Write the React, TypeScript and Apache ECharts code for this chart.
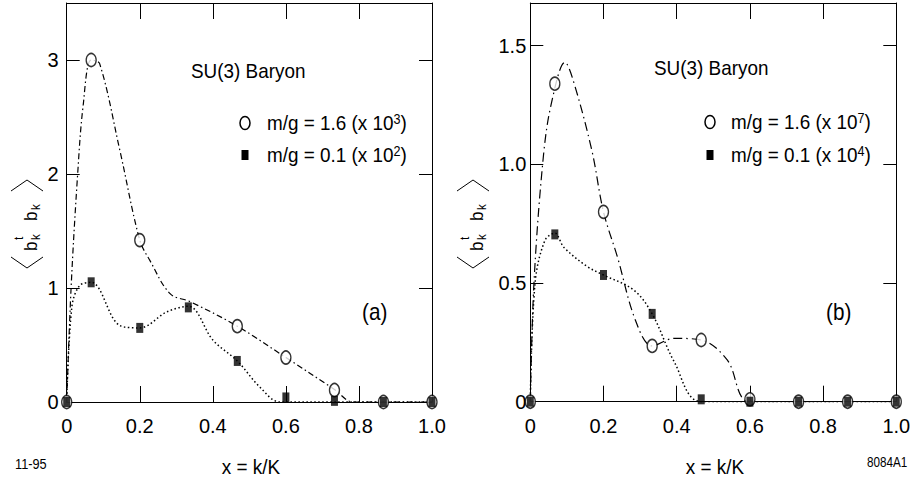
import React, { useEffect, useRef } from "react";
import * as echarts from "echarts";

// ---- data ----
const xPoints = [0, 0.067, 0.2, 0.333, 0.467, 0.6, 0.733, 0.867, 1.0];
const xTickLabels = ["0", "0.2", "0.4", "0.6", "0.8", "1.0"];

// panel (a)
const aCircles = [0, 3.0, 1.42, null, 0.665, 0.39, 0.105, 0, 0];
const aSquares = [0, 1.05, 0.65, 0.83, 0.36, 0.04, 0.01, 0, 0];
const aCircleCurveX = [0, 0.012, 0.03, 0.045, 0.067, 0.09, 0.146, 0.2, 0.228, 0.283, 0.338, 0.467, 0.6, 0.733, 0.784, 0.867, 1.0];
const aCircleCurveY = [0, 1.0, 2.0, 2.6, 3.0, 2.97, 2.2, 1.42, 1.24, 0.95, 0.88, 0.665, 0.39, 0.11, 0, 0, 0];
const aSquareCurveX = [0, 0.014, 0.035, 0.067, 0.146, 0.2, 0.274, 0.333, 0.401, 0.467, 0.529, 0.584, 0.733, 1.0];
const aSquareCurveY = [0, 0.83, 1.02, 1.05, 0.67, 0.65, 0.79, 0.84, 0.54, 0.36, 0.13, 0, 0, 0];

// panel (b)
const bCircles = [0, 1.34, 0.8, 0.235, 0.26, 0.01, 0, 0, 0];
const bSquares = [0, 0.705, 0.534, 0.37, 0.01, 0, 0, 0, 0];
const bCircleCurveX = [0, 0.01, 0.0355, 0.058, 0.095, 0.117, 0.168, 0.2, 0.238, 0.288, 0.333, 0.393, 0.467, 0.538, 0.6, 1.0];
const bCircleCurveY = [0, 0.5, 1.03, 1.26, 1.43, 1.355, 1.06, 0.8, 0.61, 0.34, 0.235, 0.267, 0.26, 0.176, 0, 0];
const bSquareCurveX = [0, 0.013, 0.04, 0.067, 0.092, 0.156, 0.2, 0.283, 0.333, 0.393, 0.467, 1.0];
const bSquareCurveY = [0, 0.5, 0.68, 0.71, 0.65, 0.569, 0.534, 0.47, 0.37, 0.169, 0, 0];

const FONT = '"Liberation Sans", Arial, Helvetica, sans-serif';
const SX = 0.9; // narrow look

const pairs = (xs: number[], ys: (number | null)[]) =>
  xs.map((x, i) => [x, ys[i]]).filter((p) => p[1] !== null);

export default function App() {
  const ref = useRef<HTMLDivElement>(null);
  useEffect(() => {
    document.body.style.margin = "0";
    const chart = echarts.init(ref.current!, null, { renderer: "svg" });

    const grids = [
      { left: 66.7, top: 3, width: 365.3, height: 399 },
      { left: 530.3, top: 3, width: 366, height: 398.7 },
    ];
    const axisLine = { show: true, onZero: false, lineStyle: { color: "#000", width: 1 } };
    const xAxisFor = (gi: number, pos: "bottom" | "top") => ({
      type: "value",
      gridIndex: gi,
      position: pos,
      min: 0,
      max: 1,
      interval: 0.2,
      axisLine,
      axisTick: { show: true, inside: true, length: 16, lineStyle: { color: "#000" } },
      splitLine: { show: false },
      axisLabel: {
        show: pos === "bottom",
        margin: 14,
        fontSize: 20,
        fontFamily: FONT,
        color: "#000",
        formatter: (v: number) => xTickLabels[Math.round(v / 0.2)],
      },
    });
    const yAxisFor = (gi: number, pos: "left" | "right", max: number, interval: number, fmt: (v: number) => string, margin: number) => ({
      type: "value",
      gridIndex: gi,
      position: pos,
      min: 0,
      max,
      interval,
      axisLine,
      axisTick: { show: true, inside: true, length: 13, lineStyle: { color: "#000" } },
      splitLine: { show: false },
      axisLabel: {
        show: pos === "left",
        showMaxLabel: false,
        margin,
        fontSize: 20,
        fontFamily: FONT,
        color: "#000",
        formatter: fmt,
      },
    });

    const circleSeries = (xi: number, yi: number, data: any[]) => ({
      type: "scatter",
      xAxisIndex: xi,
      yAxisIndex: yi,
      data,
      symbol: "circle",
      symbolSize: [10, 13],
      itemStyle: { color: "#fff", borderColor: "#000", borderWidth: 1.5 },
      z: 3,
    });
    const squareSeries = (xi: number, yi: number, data: any[]) => ({
      type: "scatter",
      xAxisIndex: xi,
      yAxisIndex: yi,
      data,
      symbol: "rect",
      symbolSize: [7, 10],
      itemStyle: { color: "#000" },
      z: 4,
    });
    const curve = (xi: number, yi: number, data: any[], dash: number[], width: number) => ({
      type: "line",
      xAxisIndex: xi,
      yAxisIndex: yi,
      data,
      smooth: 0.35,
      showSymbol: false,
      symbol: "none",
      lineStyle: { color: "#000", width, type: dash },
      clip: true,
      z: 2,
    });

    const sty = (text: string, size: number, align = "left") => ({
      text,
      fontSize: size,
      fontFamily: FONT,
      fill: "#000",
      align,
      verticalAlign: "middle",
      textAlign: align,
      textVerticalAlign: "middle",
    });

    const yTitle = (cx: number, cy: number) => ({
      type: "group",
      x: cx,
      y: cy,
      rotation: Math.PI / 2,
      children: [
        { type: "polyline", shape: { points: [[-33, -16], [-44, 0], [-33, 16]] }, style: { stroke: "#000", fill: null, lineWidth: 1 } },
        { type: "polyline", shape: { points: [[33, -16], [44, 0], [33, 16]] }, style: { stroke: "#000", fill: null, lineWidth: 1 } },
        { type: "text", x: -27, y: 4, scaleX: SX, style: sty("b", 19) },
        { type: "text", x: -16, y: -8, scaleX: SX, style: sty("t", 13) },
        { type: "text", x: -16, y: 9, scaleX: SX, style: sty("k", 13) },
        { type: "text", x: 3, y: 4, scaleX: SX, style: sty("b", 19) },
        { type: "text", x: 14, y: 9, scaleX: SX, style: sty("k", 13) },
      ],
    });

    const txt = (x: number, y: number, text: string, size: number, align = "left", sx = SX) => ({
      type: "text",
      x,
      y,
      scaleX: sx,
      style: sty(text, size, align),
    });
    const supTxt = (x: number, y: number, base: string, sup: string) => ({
      type: "text",
      x,
      y,
      scaleX: SX,
      style: {
        text: `{n|${base}}{s|${sup}}{n|)}`,
        fill: "#000",
        align: "left",
        verticalAlign: "middle",
        textAlign: "left",
        textVerticalAlign: "middle",
        rich: {
          n: { fontSize: 21, fontFamily: FONT, fill: "#000", verticalAlign: "bottom" },
          s: { fontSize: 14, fontFamily: FONT, fill: "#000", verticalAlign: "top" },
        },
      },
    });
    const legendCircle = (cx: number, cy: number) => ({
      type: "ellipse",
      shape: { cx, cy, rx: 5, ry: 6.5 },
      style: { fill: "#fff", stroke: "#000", lineWidth: 1.5 },
    });
    const legendSquare = (cx: number, cy: number) => ({
      type: "rect",
      shape: { x: cx - 3.5, y: cy - 5, width: 7, height: 10 },
      style: { fill: "#000" },
    });

    chart.setOption({
      animation: false,
      backgroundColor: "#fff",
      grid: grids,
      xAxis: [xAxisFor(0, "bottom"), xAxisFor(0, "top"), xAxisFor(1, "bottom"), xAxisFor(1, "top")],
      yAxis: [
        yAxisFor(0, "left", 3.5, 1, (v) => String(v), 8),
        yAxisFor(0, "right", 3.5, 1, (v) => String(v), 8),
        yAxisFor(1, "left", 1.68, 0.5, (v) => (v === 0 ? "0" : v.toFixed(1)), 4),
        yAxisFor(1, "right", 1.68, 0.5, (v) => (v === 0 ? "0" : v.toFixed(1)), 4),
      ],
      series: [
        curve(0, 0, pairs(aCircleCurveX, aCircleCurveY), [6, 3, 1.5, 3], 1.2),
        curve(0, 0, pairs(aSquareCurveX, aSquareCurveY), [1.5, 2.5], 1.5),
        circleSeries(0, 0, pairs(xPoints, aCircles)),
        squareSeries(0, 0, pairs(xPoints, aSquares)),
        curve(2, 2, pairs(bCircleCurveX, bCircleCurveY), [9, 4, 1.5, 4], 1.2),
        curve(2, 2, pairs(bSquareCurveX, bSquareCurveY), [1.5, 2.5], 1.5),
        circleSeries(2, 2, pairs(xPoints, bCircles)),
        squareSeries(2, 2, pairs(xPoints, bSquares)),
      ],
      graphic: [
        yTitle(27, 224),
        yTitle(473, 224),
        txt(191, 71, "SU(3) Baryon", 21),
        txt(654, 68, "SU(3) Baryon", 21),
        legendCircle(245, 123),
        supTxt(267, 123, "m/g = 1.6 (x 10", "3"),
        legendSquare(245, 155),
        supTxt(267, 155, "m/g = 0.1 (x 10", "2"),
        legendCircle(710, 122),
        supTxt(731, 122, "m/g = 1.6 (x 10", "7"),
        legendSquare(710, 155),
        supTxt(731, 155, "m/g = 0.1 (x 10", "4"),
        txt(362, 312, "(a)", 23),
        txt(826, 312, "(b)", 23),
        txt(251, 467, "x = k/K", 21, "center"),
        txt(715, 467, "x = k/K", 21, "center"),
        txt(15, 464, "11-95", 15, "left", 0.85),
        txt(867, 462, "8084A1", 15, "left", 0.78),
      ],
    });
    return () => chart.dispose();
  }, []);
  return <div ref={ref} style={{ width: 914, height: 481 }} />;
}
